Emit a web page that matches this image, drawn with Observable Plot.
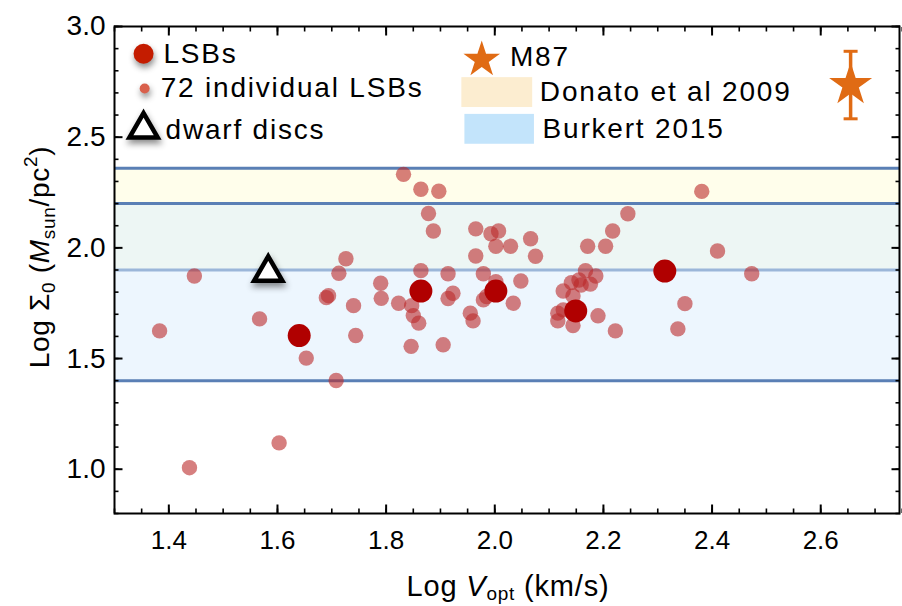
<!DOCTYPE html>
<html>
<head>
<meta charset="utf-8">
<script src="https://cdn.jsdelivr.net/npm/d3@7"></script>
<script src="https://cdn.jsdelivr.net/npm/@observablehq/plot@0.6"></script>
<style>
  html, body { margin: 0; padding: 0; background: white; }
  #chart svg { display: block; }
</style>
</head>
<body>
<div id="chart"></div>
<script>
// ---------- data ----------
const indivX = [1.383,1.438,1.447,1.567,1.603,1.653,1.690,1.694,1.708,1.713,1.726,1.740,1.744,1.790,1.791,1.823,1.832,1.846,1.847,1.850,1.860,1.864,1.864,1.878,1.887,1.897,1.905,1.914,1.914,1.923,1.955,1.960,1.965,1.965,1.979,1.979,1.985,1.993,2.002,2.002,2.007,2.029,2.034,2.048,2.066,2.075,2.116,2.116,2.126,2.126,2.141,2.144,2.144,2.155,2.159,2.167,2.171,2.176,2.186,2.190,2.204,2.217,2.222,2.245,2.337,2.350,2.381,2.410,2.473,1.865,2.000,2.150];
const indivY = [1.625,1.007,1.873,1.679,1.119,1.502,1.775,1.784,1.401,1.885,1.951,1.739,1.604,1.840,1.772,1.750,2.332,1.555,1.739,1.694,1.660,2.265,1.897,2.155,2.076,2.256,1.562,1.883,1.771,1.795,1.705,1.670,2.086,1.963,1.883,1.765,1.780,2.064,2.007,1.847,2.076,2.007,1.750,1.850,2.041,1.962,1.705,1.670,1.805,1.720,1.843,1.783,1.649,1.855,1.832,1.897,2.007,1.836,1.873,1.693,2.007,2.076,1.625,2.154,1.634,1.748,2.255,1.986,1.883,1.810,1.800,1.720];

const lsbX = [1.640, 1.864, 2.002, 2.149, 2.313];
const lsbY = [1.604, 1.805, 1.805, 1.715, 1.895];

const dwarfX = [1.583];
const dwarfY = [1.888];

const m87X = [2.655];
const m87Y = [2.736];
const m87Lo = [2.583];
const m87Hi = [2.888];

const bandNames = ["Donato et al 2009", "Burkert 2015"];
const bandLo = [1.9, 1.4];
const bandHi = [2.36, 2.2];

const xMajor = [1.4, 1.6, 1.8, 2.0, 2.2, 2.4, 2.6];
const xMinor = d3.range(1.30, 2.751, 0.05).map(v => +v.toFixed(2));
const yMajor = [1.0, 1.5, 2.0, 2.5, 3.0];
const yMinor = d3.range(0.8, 3.001, 0.1).map(v => +v.toFixed(1));

// legend (positions in data units, inside the frame)
const legendLabels = ["LSBs", "72 individual LSBs", "dwarf discs", "M87", "Donato et al 2009", "Burkert 2015"];
const legendTextX = [1.390, 1.385, 1.394, 2.028, 2.083, 2.088];
const legendTextY = [2.877, 2.720, 2.531, 2.862, 2.702, 2.535];

// ---------- tables ----------
const indiv = indivX.map((x, i) => ({x, y: indivY[i]}));
const lsb = lsbX.map((x, i) => ({x, y: lsbY[i]}));
const dwarf = dwarfX.map((x, i) => ({x, y: dwarfY[i]}));
const m87 = m87X.map((x, i) => ({x, y: m87Y[i], lo: m87Lo[i], hi: m87Hi[i]}));
const bands = bandNames.map((name, i) => ({name, lo: bandLo[i], hi: bandHi[i]}));
const legendText = legendLabels.map((t, i) => ({t, x: legendTextX[i], y: legendTextY[i]}));

const orange = "#e06b14";
const edge = "#5a7fb5";
const capSymbol = {draw(ctx, size) { const w = Math.sqrt(size / Math.PI); ctx.moveTo(-w, 0); ctx.lineTo(w, 0); }};
const blank = () => "";
const shadow = () => "shadowed";

const chart = Plot.plot({
  width: 902,
  height: 606,
  marginTop: 26,
  marginBottom: 93,
  marginLeft: 114,
  marginRight: 3,
  x: {domain: [1.3, 2.745], label: null},
  y: {domain: [0.8, 3.0], label: null},
  style: {fontFamily: "'Liberation Sans', Arial, Helvetica, sans-serif", fontSize: "26px", background: "white", color: "black"},
  marks: [
    // bands
    Plot.rect([bands[0]], {y1: "lo", y2: "hi", fill: "#fffeeb"}),
    Plot.ruleY([bands[0]], {y: "lo", stroke: edge, strokeWidth: 3}),
    Plot.ruleY([bands[0]], {y: "hi", stroke: edge, strokeWidth: 3}),
    Plot.rect([bands[1]], {y1: "lo", y2: "hi", fill: "#dbeefd", fillOpacity: 0.5}),
    Plot.ruleY([bands[1]], {y: "lo", stroke: edge, strokeWidth: 3}),
    Plot.ruleY([bands[1]], {y: "hi", stroke: edge, strokeWidth: 3}),

    // data
    Plot.dot(indiv, {x: "x", y: "y", r: 7.7, fill: "#bb2a2a", fillOpacity: 0.6}),
    Plot.dot(lsb, {x: "x", y: "y", r: 11.5, fill: "#b00000"}),
    Plot.dot(dwarf, {x: "x", y: "y", symbol: "triangle", r: 10.5, fill: "white", stroke: "black", strokeWidth: 4.5, strokeLinejoin: "miter", ariaLabel: shadow}),
    Plot.ruleX(m87, {x: "x", y1: "lo", y2: "hi", stroke: orange, strokeWidth: 3.5}),
    Plot.dot(m87, {x: "x", y: "lo", symbol: capSymbol, r: 7, stroke: orange, strokeWidth: 3}),
    Plot.dot(m87, {x: "x", y: "hi", symbol: capSymbol, r: 7, stroke: orange, strokeWidth: 3}),
    Plot.dot(m87, {x: "x", y: "y", symbol: "star", r: 13.5, fill: orange}),

    // legend symbols
    Plot.dot([{x: 1.3535, y: 2.877}], {x: "x", y: "y", r: 10, fill: "#c41c00", ariaLabel: shadow}),
    Plot.dot([{x: 1.3555, y: 2.720}], {x: "x", y: "y", r: 5, fill: "#d9604c", ariaLabel: shadow}),
    Plot.dot([{x: 1.3535, y: 2.535}], {x: "x", y: "y", symbol: "triangle", r: 10.5, fill: "white", stroke: "black", strokeWidth: 4.5, strokeLinejoin: "miter", ariaLabel: shadow}),
    Plot.dot([{x: 1.976, y: 2.850}], {x: "x", y: "y", symbol: "star", r: 11.5, fill: orange}),
    Plot.rect([{x1: 1.9394, x2: 2.0698, y1: 2.634, y2: 2.769}], {x1: "x1", x2: "x2", y1: "y1", y2: "y2", fill: "#fcedd0"}),
    Plot.rect([{x1: 1.945, x2: 2.073, y1: 2.468, y2: 2.603}], {x1: "x1", x2: "x2", y1: "y1", y2: "y2", fill: "#c3e4fb"}),
    Plot.text(legendText, {x: "x", y: "y", text: "t", textAnchor: "start", fontSize: 28, fill: "black", ariaLabel: () => "legendtext"}),

    // axes: labels
    Plot.axisX(xMajor, {anchor: "bottom", tickSize: 0, tickPadding: 17, tickFormat: d3.format(".1f"), label: null, fontSize: 26}),
    Plot.axisY(yMajor, {anchor: "left", tickSize: 0, tickPadding: 9, tickFormat: d3.format(".1f"), label: null, fontSize: 28}),
    // axes: inward ticks on all four sides
    Plot.axisX(xMinor, {anchor: "bottom", tickSize: -4.5, tickFormat: blank, label: null, strokeWidth: 1.6}),
    Plot.axisX(xMajor, {anchor: "bottom", tickSize: -8.5, tickFormat: blank, label: null, strokeWidth: 2}),
    Plot.axisX(xMinor, {anchor: "top", tickSize: -4.5, tickFormat: blank, label: null, strokeWidth: 1.6}),
    Plot.axisX(xMajor, {anchor: "top", tickSize: -8.5, tickFormat: blank, label: null, strokeWidth: 2}),
    Plot.axisY(yMinor, {anchor: "left", tickSize: -4.5, tickFormat: blank, label: null, strokeWidth: 1.6}),
    Plot.axisY(yMajor, {anchor: "left", tickSize: -8.5, tickFormat: blank, label: null, strokeWidth: 2}),
    Plot.axisY(yMinor, {anchor: "right", tickSize: -4.5, tickFormat: blank, label: null, strokeWidth: 1.6}),
    Plot.axisY(yMajor, {anchor: "right", tickSize: -8.5, tickFormat: blank, label: null, strokeWidth: 2}),
    Plot.frame({stroke: "black", strokeWidth: 2})
  ]
});

document.getElementById("chart").appendChild(chart);

// drop shadows like the original symbols
d3.select(chart).selectAll('[aria-label="shadowed"]').style("filter", "drop-shadow(1px 4px 3px rgba(0,0,0,0.45))");
// wider legend lettering as in the original
d3.select(chart).selectAll('[aria-label="legendtext"]').style("letter-spacing", "1.8px");

// axis titles with sub/superscripts
const svg = d3.select(chart);
const xl = svg.append("text")
  .attr("x", 508).attr("y", 596)
  .attr("text-anchor", "middle")
  .attr("font-size", 29).attr("letter-spacing", "0.8px").attr("fill", "black");
xl.append("tspan").text("Log ");
xl.append("tspan").attr("font-style", "italic").text("V");
xl.append("tspan").attr("font-size", 19).attr("dy", 4).text("opt");
xl.append("tspan").attr("dy", -4).text(" (km/s)");

const yl = svg.append("text")
  .attr("transform", "translate(49,257) rotate(-90)")
  .attr("text-anchor", "middle")
  .attr("font-size", 28).attr("letter-spacing", "0.7px").attr("fill", "black");
yl.append("tspan").text("Log \u03A3");
yl.append("tspan").attr("font-size", 19).attr("dy", 6).text("0");
yl.append("tspan").attr("dy", -6).text(" (");
yl.append("tspan").attr("font-style", "italic").text("M");
yl.append("tspan").attr("font-size", 19).attr("dy", 6).text("sun");
yl.append("tspan").attr("dy", -6).text("/pc");
yl.append("tspan").attr("font-size", 19).attr("dy", -12).text("2");
yl.append("tspan").attr("dy", 12).text(")");
</script>
</body>
</html>
